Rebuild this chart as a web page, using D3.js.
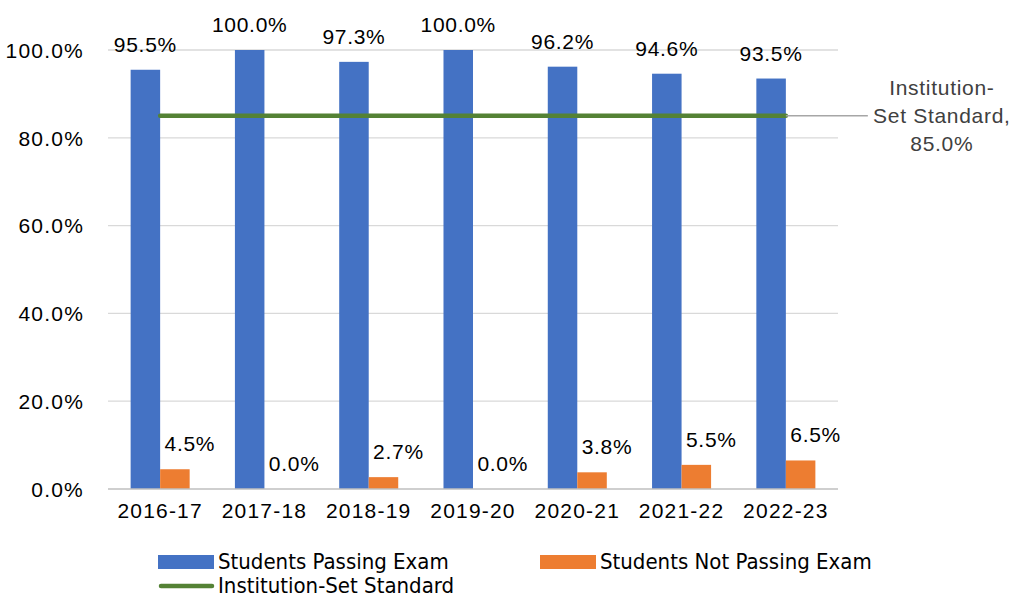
<!DOCTYPE html>
<html lang="en">
<head>
<meta charset="UTF-8">
<title>Exam Pass Rates</title>
<script src="https://d3js.org/d3.v7.min.js"></script>
<style>
    body { margin: 0; background: #fff; }
    svg { display: block; }
    text { font-family: "Liberation Sans", Arial, sans-serif; fill: #000; }
    .tick text { font-size: 21px; letter-spacing: 1.2px; }
    .lbl { font-size: 21px; letter-spacing: 0.7px; }
    .legend text { font-family: "Liberation Sans Narrow", "DejaVu Sans Condensed", sans-serif; font-size: 22px; }
</style>
</head>
<body>
<script>
    // chart data
    const years = ["2016-17", "2017-18", "2018-19", "2019-20", "2020-21", "2021-22", "2022-23"];
    const passing = [95.5, 100.0, 97.3, 100.0, 96.2, 94.6, 93.5];
    const notPassing = [4.5, 0.0, 2.7, 0.0, 3.8, 5.5, 6.5];
    const standard = [85, 85, 85, 85, 85, 85, 85];
    const yTicks = [0, 20, 40, 60, 80, 100];

    const width = 1021, height = 598;
    const margin = {top: 50, right: 183, bottom: 109, left: 108};

    const svg = d3.select("body").append("svg")
        .attr("width", width)
        .attr("height", height);

    const x = d3.scaleBand()
        .domain(years)
        .range([margin.left, width - margin.right])
        .paddingInner(0.434)
        .paddingOuter(0.217);
    const x1 = d3.scaleBand()
        .domain(["pass", "fail"])
        .range([0, x.bandwidth()]);
    const y = d3.scaleLinear()
        .domain([0, 100])
        .range([height - margin.bottom, margin.top]);

    const fmt = d => d3.format(".1f")(d) + "%";

    // gridlines
    svg.append("g")
        .selectAll("line")
        .data(yTicks.filter(d => d > 0))
        .enter()
        .append("line")
        .attr("x1", margin.left)
        .attr("x2", width - margin.right)
        .attr("y1", d => y(d))
        .attr("y2", d => y(d))
        .attr("stroke", "#d9d9d9")
        .attr("stroke-width", 1.3);

    // y axis
    const yAxis = svg.append("g")
        .attr("transform", `translate(${margin.left - 21},0)`)
        .call(d3.axisLeft(y).tickValues(yTicks).tickFormat(fmt).tickSize(0));
    yAxis.select(".domain").remove();
    yAxis.selectAll("text").attr("dy", "0.35em");

    // bars
    const groups = svg.append("g")
        .selectAll("g")
        .data(years)
        .enter()
        .append("g")
        .attr("transform", d => `translate(${x(d)},0)`);

    groups.append("rect")
        .attr("x", x1("pass"))
        .attr("width", x1.bandwidth())
        .attr("y", (d, i) => y(passing[i]))
        .attr("height", (d, i) => y(0) - y(passing[i]))
        .attr("fill", "#4472c4");

    groups.append("rect")
        .attr("x", x1("fail"))
        .attr("width", x1.bandwidth())
        .attr("y", (d, i) => y(notPassing[i]))
        .attr("height", (d, i) => y(0) - y(notPassing[i]))
        .attr("fill", "#ed7d31");

    // baseline
    svg.append("line")
        .attr("x1", margin.left)
        .attr("x2", width - margin.right)
        .attr("y1", y(0))
        .attr("y2", y(0))
        .attr("stroke", "#bfbfbf")
        .attr("stroke-width", 1.5);

    // x axis
    const xAxis = svg.append("g")
        .attr("transform", `translate(0,${y(0)})`)
        .call(d3.axisBottom(x).tickSize(0).tickPadding(14));
    xAxis.select(".domain").remove();
    xAxis.selectAll("text").attr("dy", "0.71em");

    // value labels
    groups.append("text")
        .attr("class", "lbl")
        .attr("text-anchor", "middle")
        .attr("x", x1("pass") + x1.bandwidth() / 2)
        .attr("y", (d, i) => y(passing[i]) - 18)
        .text((d, i) => fmt(passing[i]));

    groups.append("text")
        .attr("class", "lbl")
        .attr("text-anchor", "middle")
        .attr("x", x1("fail") + x1.bandwidth() / 2 + 15)
        .attr("y", (d, i) => y(notPassing[i]) - 18)
        .text((d, i) => fmt(notPassing[i]));

    // standard line
    const line = d3.line()
        .x((d, i) => x(years[i]) + x.bandwidth() / 2)
        .y(d => y(d));
    svg.append("path")
        .datum(standard)
        .attr("d", line)
        .attr("fill", "none")
        .attr("stroke", "#548235")
        .attr("stroke-width", 4.5)
        .attr("stroke-linecap", "round");

    // leader line and callout
    const lastX = x(years[years.length - 1]) + x.bandwidth() / 2;
    const lastY = y(standard[standard.length - 1]);
    svg.append("line")
        .attr("x1", lastX)
        .attr("x2", lastX + 82)
        .attr("y1", lastY)
        .attr("y2", lastY)
        .attr("stroke", "#a6a6a6")
        .attr("stroke-width", 1.5);

    const callout = svg.append("text")
        .attr("class", "lbl")
        .attr("text-anchor", "middle")
        .style("fill", "#404040")
        .attr("x", lastX + 156)
        .attr("y", lastY - 21);
    ["Institution-", "Set Standard,", fmt(standard[standard.length - 1])].forEach((t, i) => {
        callout.append("tspan")
            .attr("x", lastX + 156)
            .attr("dy", i === 0 ? 0 : 28)
            .text(t);
    });

    // legend
    const legend = svg.append("g").attr("class", "legend");
    const legItems = [
        {name: "Students Passing Exam", color: "#4472c4", type: "rect", x: 158, y: 562},
        {name: "Students Not Passing Exam", color: "#ed7d31", type: "rect", x: 540, y: 562},
        {name: "Institution-Set Standard", color: "#548235", type: "line", x: 158, y: 586}
    ];
    const li = legend.selectAll("g")
        .data(legItems)
        .enter()
        .append("g")
        .attr("transform", d => `translate(${d.x},${d.y})`);
    li.filter(d => d.type === "rect").append("rect")
        .attr("x", 0).attr("y", -7)
        .attr("width", 56).attr("height", 14)
        .attr("fill", d => d.color);
    li.filter(d => d.type === "line").append("line")
        .attr("x1", 3).attr("x2", 54)
        .attr("stroke", d => d.color)
        .attr("stroke-width", 4.5)
        .attr("stroke-linecap", "round");
    li.append("text")
        .attr("x", 60)
        .attr("dy", "0.3em")
        .text(d => d.name);
</script>
</body>
</html>
